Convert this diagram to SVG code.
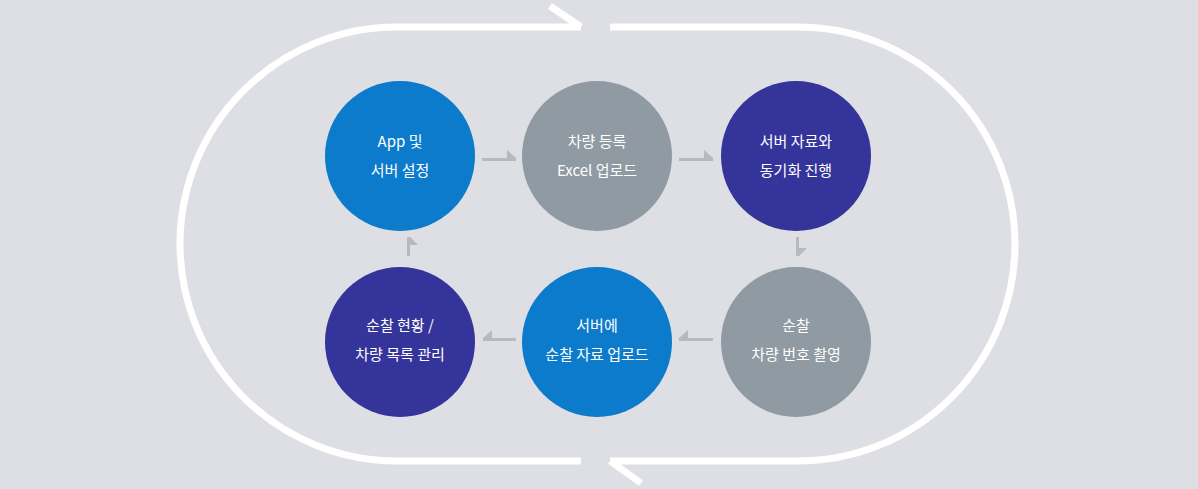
<svg xmlns="http://www.w3.org/2000/svg" width="1198" height="489" viewBox="0 0 1198 489">
<style>
.t{fill:#fff;font-family:"Noto Sans CJK KR","Noto Sans",sans-serif;font-size:15px;text-anchor:middle}
.tr{fill:none;stroke:#fff;stroke-width:7}
.c{fill:#b7b9bf}
</style>
<rect width="1198" height="489" fill="#dedfe4"/>
<g id="track">
<path class="tr" d="M581,27 H397 A217,217 0 0 0 397,461 H581 M581,27 L550,6"/>
<path class="tr" d="M610,27 H798 A217,217 0 0 1 798,461 H610 M610,461 L641,483"/>
</g>
<g id="connectors">
<path class="c" d="M482,158 H516 L507,150 V158 Z M482,158 V161 H516 V158 Z"/>
<path class="c" d="M679,158 H713 L704,150 V158 Z M679,158 V161 H713 V158 Z"/>
<path class="c" d="M796,237 H799 V256 L807,248 H799 V256 H796 Z"/>
<path class="c" d="M713,338 V341 H679 V338 L688,330 V338 Z"/>
<path class="c" d="M516,338 V341 H483 V338 L492,330 V338 Z"/>
<path class="c" d="M407,256 H410 V237 L418,245 H410 V237 H407 Z"/>
</g>
<g id="n1"><circle cx="400" cy="156" r="75" fill="#0c7bcc"/><text class="t" x="400" y="147">App 및</text><text class="t" x="400" y="176">서버 설정</text></g>
<g id="n2"><circle cx="597" cy="156" r="75" fill="#8f9aa2"/><text class="t" x="597" y="147">차량 등록</text><text class="t" x="597" y="176">Excel 업로드</text></g>
<g id="n3"><circle cx="796" cy="156" r="75" fill="#35349a"/><text class="t" x="796" y="147">서버 자료와</text><text class="t" x="796" y="176">동기화 진행</text></g>
<g id="n4"><circle cx="796" cy="342" r="75" fill="#8f9aa2"/><text class="t" x="796" y="331">순찰</text><text class="t" x="796" y="360">차량 번호 촬영</text></g>
<g id="n5"><circle cx="597" cy="342" r="75" fill="#0c7bcc"/><text class="t" x="597" y="331">서버에</text><text class="t" x="597" y="360">순찰 자료 업로드</text></g>
<g id="n6"><circle cx="400" cy="342" r="75" fill="#35349a"/><text class="t" x="400" y="331">순찰 현황 /</text><text class="t" x="400" y="360">차량 목록 관리</text></g>
</svg>
